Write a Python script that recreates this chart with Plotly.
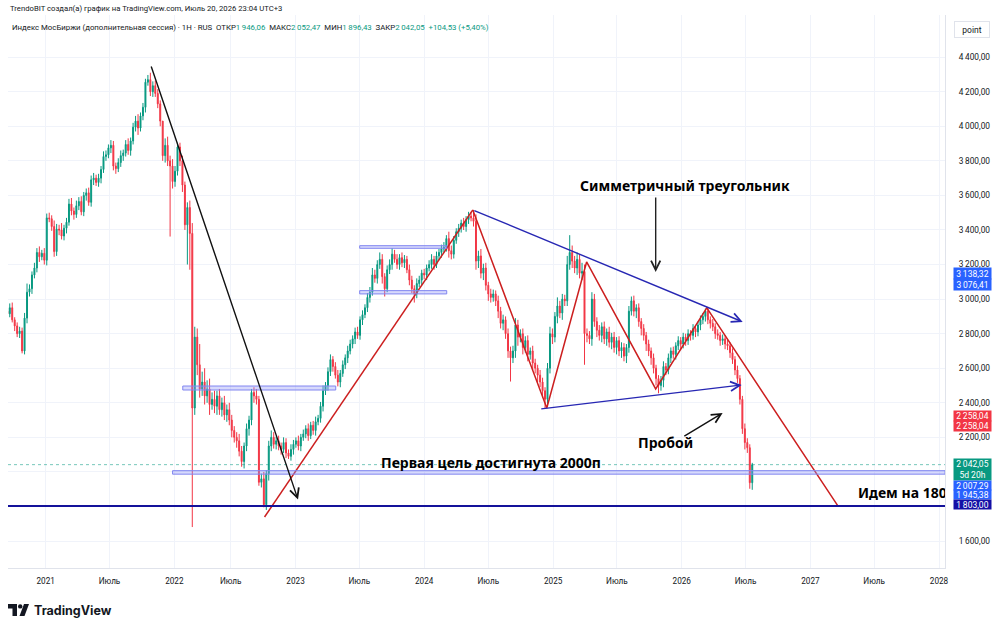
import plotly.graph_objects as go
import pandas as pd

# ---------------- data (weekly bars) ----------------
closes = [
    2915, 2950, 2880, 2845, 2800, 2815, 2700, 2890, 3040, 3060,
    3140, 3180, 3270, 3245, 3265, 3225, 3470, 3465, 3420, 3275,
    3405, 3400, 3365, 3410, 3445, 3550, 3510, 3490, 3540, 3565,
    3505, 3600, 3615, 3560, 3690, 3700, 3675, 3700, 3750, 3825,
    3835, 3875, 3890, 3770, 3755, 3790, 3830, 3845, 3895, 3860,
    3915, 3995, 4030, 3990, 4060, 4110, 4255, 4270, 4200, 4235,
    4190, 4130, 4030, 3830, 3890, 3800, 3770, 3680, 3740, 3880,
    3800, 3660, 3430, 3530, 3380, 2370, 2780, 2620, 2480, 2520,
    2440, 2480, 2390, 2420, 2380, 2440, 2360, 2400, 2330, 2360,
    2300, 2240, 2200, 2180, 2120, 2060, 2150, 2250, 2300, 2460,
    2440, 2420, 1940, 1960, 1810, 1990, 2150, 2200, 2160, 2180,
    2150, 2130, 2170, 2110, 2090, 2130, 2160, 2180, 2150, 2200,
    2220, 2250, 2210, 2270, 2240, 2290, 2310, 2380, 2470, 2500,
    2580, 2650, 2610, 2560, 2520, 2570, 2620, 2660, 2700, 2740,
    2770, 2810, 2790, 2880, 2910, 2950, 3010, 3040, 3140, 3120,
    3200, 3230, 3130, 3060, 3170, 3200, 3260, 3230, 3200, 3240,
    3210, 3230, 3170, 3110, 3060, 3030, 3090, 3110, 3150, 3140,
    3180, 3200, 3230, 3200, 3250, 3270, 3290, 3300, 3350, 3280,
    3260, 3340, 3390, 3410, 3440, 3420, 3460, 3480, 3470, 3450,
    3220, 3250, 3150, 3180, 3080, 3030, 3010, 3030, 2990, 2930,
    2860, 2880, 2800, 2700, 2660, 2700, 2850, 2780, 2800, 2720,
    2760, 2680, 2700, 2630, 2600, 2560, 2520, 2470, 2420, 2600,
    2800, 2780, 2900, 2960, 2920, 3000, 2990, 3200, 3270, 3220,
    3180, 3230, 3150, 3160, 2800, 2790, 2770, 3000, 2870, 2820,
    2790, 2840, 2770, 2810, 2750, 2780, 2720, 2760, 2700, 2720,
    2670, 2720, 2930, 2990, 2930, 2950, 2870, 2830, 2790, 2740,
    2700, 2660, 2600, 2540, 2500, 2530, 2610, 2590, 2660, 2700,
    2680, 2730, 2760, 2740, 2780, 2760, 2800, 2790, 2830, 2810,
    2850, 2880, 2900, 2930, 2880, 2860, 2840, 2800, 2790, 2760,
    2770, 2740, 2730, 2690, 2650, 2590, 2540, 2420, 2250, 2170,
    2140, 1937.52, 2042.05,
]
wick_up = [
    20, 25, 30, 15, 20, 25, 20, 30, 50, 25,
    20, 30, 25, 35, 20, 30, 25, 30, 20, 35,
    30, 25, 40, 20, 25, 30, 35, 20, 30, 25,
    30, 20, 25, 30, 25, 30, 20, 25, 20, 30,
    25, 20, 30, 25, 20, 25, 30, 20, 25, 35,
    20, 25, 30, 40, 20, 25, 20, 27, 40, 25,
    30, 25, 20, 0, 40, 50, 30, 40, 30, 25,
    25, 30, 20, 30, 40, 60, 60, 50, 120, 60,
    80, 50, 60, 40, 50, 30, 40, 30, 40, 30,
    40, 30, 25, 30, 40, 30, 20, 30, 25, 20,
    30, 40, 20, 30, 40, 20, 30, 40, 30, 25,
    30, 20, 30, 25, 20, 30, 25, 20, 30, 20,
    25, 20, 30, 20, 25, 30, 20, 25, 30, 20,
    25, 30, 20, 25, 30, 20, 25, 20, 30, 25,
    20, 25, 30, 20, 25, 20, 25, 30, 40, 30,
    25, 40, 30, 20, 25, 30, 35, 25, 30, 20,
    30, 25, 20, 30, 25, 20, 30, 25, 20, 25,
    20, 25, 30, 20, 25, 20, 25, 30, 20, 40,
    30, 25, 20, 25, 20, 30, 20, 25, 25, 46,
    40, 30, 40, 25, 30, 20, 30, 25, 20, 30,
    25, 30, 20, 30, 25, 30, 40, 30, 25, 30,
    25, 30, 20, 30, 25, 20, 30, 25, 20, 30,
    40, 30, 25, 50, 30, 30, 25, 50, 100, 40,
    30, 40, 30, 50, 40, 30, 25, 40, 30, 25,
    30, 25, 30, 20, 30, 25, 30, 20, 25, 30,
    25, 20, 30, 25, 30, 20, 25, 20, 25, 20,
    25, 20, 25, 20, 20, 25, 30, 20, 25, 20,
    25, 20, 25, 20, 25, 20, 25, 20, 25, 20,
    20, 25, 20, 15, 25, 20, 25, 20, 25, 20,
    25, 20, 25, 20, 25, 20, 25, 20, 20, 30,
    25, 20, 10.42,
]
wick_dn = [
    25, 20, 15, 30, 20, 25, 14, 20, 30, 25,
    30, 20, 25, 30, 20, 25, 30, 20, 25, 30,
    25, 30, 20, 25, 30, 20, 25, 30, 20, 25,
    20, 25, 30, 20, 25, 30, 20, 25, 30, 20,
    25, 20, 30, 25, 30, 20, 25, 30, 20, 25,
    30, 20, 25, 40, 20, 25, 30, 20, 25, 30,
    20, 25, 30, 30, 40, 30, 408, 40, 30, 25,
    30, 40, 30, 230, 210, 689, 40, 60, 50, 40,
    50, 40, 60, 30, 40, 50, 30, 40, 30, 40,
    30, 40, 30, 40, 30, 30, 40, 30, 40, 30,
    40, 30, 20, 30, 15, 30, 40, 30, 25, 30,
    25, 30, 20, 30, 15, 25, 30, 20, 25, 30,
    20, 25, 30, 20, 25, 30, 20, 25, 30, 25,
    30, 25, 30, 20, 25, 30, 20, 25, 30, 20,
    25, 30, 20, 25, 30, 20, 25, 30, 20, 25,
    30, 25, 40, 45, 20, 25, 30, 20, 25, 30,
    25, 30, 20, 30, 25, 50, 25, 20, 30, 25,
    30, 20, 25, 30, 20, 25, 30, 20, 25, 40,
    30, 25, 20, 30, 25, 20, 30, 25, 20, 30,
    50, 40, 30, 40, 30, 40, 30, 25, 30, 40,
    30, 40, 30, 40, 137, 30, 40, 50, 30, 40,
    30, 40, 30, 40, 30, 40, 30, 40, 52, 40,
    30, 40, 30, 40, 30, 40, 30, 30, 30, 40,
    30, 40, 30, 40, 180, 40, 30, 40, 30, 40,
    30, 40, 30, 40, 30, 40, 30, 40, 30, 40,
    30, 40, 30, 25, 30, 40, 30, 40, 30, 40,
    30, 40, 30, 40, 45, 30, 40, 30, 25, 30,
    25, 30, 25, 30, 25, 30, 25, 30, 25, 30,
    25, 30, 25, 30, 25, 30, 25, 30, 25, 30,
    25, 30, 25, 30, 25, 30, 25, 30, 30, 40,
    30, 35, 41.09,
]
first_open = 2930.0
week_start, week_end = "2020-09-14", "2026-07-20"
closed_weeks = ["2022-02-28", "2022-03-07", "2022-03-14"]

x_tick_vals = ["2021-01-01", "2021-07-01", "2022-01-01", "2022-07-01", "2023-01-01",
               "2023-07-01", "2024-01-01", "2024-07-01", "2025-01-01", "2025-07-01",
               "2026-01-01", "2026-07-01", "2027-01-01", "2027-07-01", "2028-01-01"]
x_tick_text = ["2021", "Июль", "2022", "Июль", "2023", "Июль", "2024", "Июль",
               "2025", "Июль", "2026", "Июль", "2027", "Июль", "2028"]
y_tick_vals = [1600, 1800, 2000, 2200, 2400, 2600, 2800, 3000, 3200, 3400,
               3600, 3800, 4000, 4200, 4400]
y_hidden_ticks = [1800, 2000]

# drawing anchors (time, price)
level_target = 1803.0
last_close = 2042.05
boxes = [  # (t0, t1, p0, p1)
    ("2022-01-25", "2023-04-25", 2474, 2497),
    ("2023-07-02", "2024-03-05", 3294, 3309),
    ("2023-07-02", "2024-03-05", 3030, 3049),
    ("2021-12-27", "2028-01-18", 1987, 2007.29),
]
trend_t = ["2022-10-05", "2024-05-18"]
trend_p = [1739, 3516]
zigzag_t = ["2024-05-18", "2024-12-14", "2025-04-06", "2025-10-19", "2026-03-13", "2027-03-20"]
zigzag_p = [3516, 2370, 3215, 2480, 2949, 1803]
arrows = [  # (tail_t, tail_p, head_t, head_p, colour)
    ("2021-10-26", 4355, "2023-01-08", 1840, "#111111"),
    ("2024-05-18", 3516, "2026-06-23", 2868, "#2727b3"),
    ("2024-11-24", 2364, "2026-06-20", 2503, "#2727b3"),
    ("2025-10-19", 3597, "2025-10-19", 3157, "#222222"),
    ("2026-01-04", 2202, "2026-04-27", 2341, "#111111"),
]
texts = [  # (t, p, text) - left-anchored
    ("2025-03-12", 3655, "Симметричный треугольник"),
    ("2025-08-23", 2168, "Пробой"),
    ("2023-08-25", 2052, "Первая цель достигнута 2000п"),
]
clipped_text = ("2027-05-16", 1872, "Идем на 1800")
text_size = 14

price_labels = [  # (text, bg, top_px, bottom_px)
    ("3\u2009138,32", "#2962ff", 268.0, 279.0),
    ("3\u2009076,41", "#2962ff", 279.0, 290.0),
    ("2\u2009258,04", "#f23645", 411.0, 421.0),
    ("2\u2009258,04", "#f23645", 421.0, 431.0),
    ("2\u2009042,05<br>5d 20h", "#089981", 459.5, 480.5),
    ("2\u2009007,29", "#2962ff", 480.8, 490.0),
    ("1\u2009945,38", "#2962ff", 490.2, 499.2),
    ("1\u2009803,00", "#1410a6", 499.4, 508.6),
]

# ---------------- build ----------------
weeks = pd.date_range(week_start, week_end, freq="7D")
weeks = weeks[~weeks.isin(pd.to_datetime(closed_weeks))]
assert len(weeks) == len(closes) == len(wick_up) == len(wick_dn)
opens = [first_open] + closes[:-1]
highs = [max(o, c) + u for o, c, u in zip(opens, closes, wick_up)]
lows = [min(o, c) - d for o, c, d in zip(opens, closes, wick_dn)]

W, H = 1000, 630
PL, PR, PT, PB = 8, 945, 15, 568


def pxp(X):
    return (X - PL) / (PR - PL)


def pyp(Y):
    return (PB - Y) / (PB - PT)


def fmt_price(v):
    return f"{int(v) // 1000}\u2009{int(v) % 1000:03d},00"


fig = go.Figure()
fig.add_trace(go.Candlestick(
    x=weeks, open=opens, high=highs, low=lows, close=closes,
    increasing=dict(line=dict(color="#089981", width=1), fillcolor="#089981"),
    decreasing=dict(line=dict(color="#f23645", width=1), fillcolor="#f23645"),
    whiskerwidth=0, showlegend=False, hoverinfo="skip"))

fig.add_trace(go.Scatter(x=trend_t, y=trend_p, mode="lines",
                         line=dict(color="#cc1f1f", width=1.5), showlegend=False, hoverinfo="skip"))
fig.add_trace(go.Scatter(x=zigzag_t, y=zigzag_p, mode="lines",
                         line=dict(color="#cc1f1f", width=1.5), showlegend=False, hoverinfo="skip"))
fig.add_trace(go.Scatter(x=[clipped_text[0]], y=[clipped_text[1]], mode="text",
                         text=["<b>" + clipped_text[2] + "</b>"], textposition="middle right",
                         textfont=dict(size=text_size, color="#000000", family="Noto Sans"),
                         cliponaxis=True, showlegend=False, hoverinfo="skip"))

shapes = []
for t0, t1, p0, p1 in boxes:
    shapes.append(dict(type="rect", xref="x", yref="y", x0=t0, x1=t1, y0=p0, y1=p1,
                       fillcolor="rgba(140,146,245,0.35)", line=dict(color="#8186f0", width=1),
                       layer="above"))
shapes.append(dict(type="line", xref="paper", yref="y", x0=0, x1=1, y0=level_target, y1=level_target,
                   line=dict(color="#14129a", width=2)))
shapes.append(dict(type="line", xref="paper", yref="y", x0=0, x1=1, y0=last_close, y1=last_close,
                   line=dict(color="rgba(8,153,129,0.55)", width=1, dash="dot")))


def path_from(points):
    return "M " + " L ".join(f"{pxp(x):.5f},{pyp(y):.5f}" for x, y in points) + " Z"


# TradingView logo mark
shapes.append(dict(type="path", xref="paper", yref="paper",
                   path=path_from([(8, 604), (17, 604), (17, 616), (12.5, 616), (12.5, 608.5), (8, 608.5)]),
                   fillcolor="#131722", line=dict(width=0)))
shapes.append(dict(type="circle", xref="paper", yref="paper",
                   x0=pxp(18), x1=pxp(22.4), y0=pyp(604.2), y1=pyp(608.6),
                   fillcolor="#131722", line=dict(width=0)))
shapes.append(dict(type="path", xref="paper", yref="paper",
                   path=path_from([(24, 604), (29, 604), (24.5, 616), (19.5, 616)]),
                   fillcolor="#131722", line=dict(width=0)))

ann = []
for tt, tp, ht, hp, col in arrows:
    ann.append(dict(x=ht, y=hp, xref="x", yref="y", ax=tt, ay=tp, axref="x", ayref="y",
                    text="", showarrow=True, arrowhead=5, arrowsize=1.3, arrowwidth=1.4,
                    arrowcolor=col, standoff=0, startstandoff=0))
for t, p, s in texts:
    ann.append(dict(x=t, y=p, xref="x", yref="y", text="<b>" + s + "</b>", showarrow=False,
                    font=dict(size=text_size, color="#000000", family="Noto Sans"),
                    xanchor="left", yanchor="middle"))

for s, bg, top, bot in price_labels:
    ann.append(dict(x=pxp(953), y=pyp((top + bot) / 2), xref="paper", yref="paper", text=s,
                    showarrow=False, xanchor="left", yanchor="middle",
                    font=dict(size=8.5, color="#ffffff", family="Roboto"),
                    bgcolor=bg, width=37, height=bot - top, borderpad=0, align="center"))

# header / legend / misc text
ann.append(dict(x=pxp(8), y=pyp(9), xref="paper", yref="paper", xanchor="left", yanchor="middle",
                text="TrendoBIT создал(а) график на TradingView.com, Июль 20, 2026 23:04 UTC+3",
                showarrow=False, font=dict(size=7.7, color="#131722", family="Roboto")))
g = "#089981"
legend = ("Индекс МосБиржи (дополнительная сессия) · 1H · RUS  "
          f"ОТКР<span style='color:{g}'>1\u2009946,06</span>  "
          f"МАКС<span style='color:{g}'>2\u2009052,47</span>  "
          f"МИН<span style='color:{g}'>1\u2009896,43</span>  "
          f"ЗАКР<span style='color:{g}'>2\u2009042,05</span>  "
          f"<span style='color:{g}'>+104,53 (+5,40%)</span>")
ann.append(dict(x=pxp(10), y=pyp(27), xref="paper", yref="paper", xanchor="left", yanchor="middle",
                text=legend, showarrow=False, font=dict(size=7.8, color="#131722", family="Roboto")))
ann.append(dict(x=pxp(972), y=pyp(30), xref="paper", yref="paper", xanchor="center", yanchor="middle",
                text="point", showarrow=False, font=dict(size=8.5, color="#131722", family="Roboto"),
                bgcolor="#ffffff", bordercolor="#e0e3eb", borderwidth=1, width=32, height=13))
ann.append(dict(x=pxp(32), y=pyp(610), xref="paper", yref="paper", xanchor="left", yanchor="middle",
                text="<b>TradingView</b>", showarrow=False,
                font=dict(size=12.5, color="#131722", family="Inter")))

fig.update_layout(
    width=W, height=H, autosize=False,
    margin=dict(l=PL, r=W - PR, t=PT, b=H - PB),
    paper_bgcolor="#ffffff", plot_bgcolor="#ffffff",
    showlegend=False, boxgap=0.45,
    shapes=shapes, annotations=ann,
    font=dict(family="Roboto", color="#131722"),
)
fig.update_xaxes(
    type="date", range=["2020-09-16", "2028-01-18"],
    rangebreaks=[dict(bounds=[closed_weeks[0], "2022-03-21"])],
    rangeslider=dict(visible=False),
    tickmode="array", tickvals=x_tick_vals, ticktext=x_tick_text,
    showgrid=True, gridcolor="#f0f3fa", gridwidth=1, zeroline=False,
    ticks="", ticklabelstandoff=5, tickfont=dict(size=8.2, color="#131722"),
    showline=True, linecolor="#e0e3eb", linewidth=1,
)
fig.update_yaxes(
    side="right", range=[1444, 4644],
    tickmode="array", tickvals=y_tick_vals,
    ticktext=["" if v in y_hidden_ticks else fmt_price(v) for v in y_tick_vals],
    showgrid=True, gridcolor="#f0f3fa", gridwidth=1, zeroline=False,
    ticks="", ticklabelstandoff=11, tickfont=dict(size=8.3, color="#131722"),
    showline=True, linecolor="#e0e3eb", linewidth=1,
)

fig.write_html("out.html")
